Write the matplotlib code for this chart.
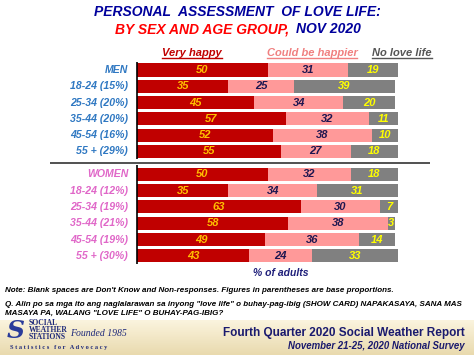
import numpy as np
import matplotlib
matplotlib.use("Agg")
import matplotlib.pyplot as plt
from matplotlib.lines import Line2D

plt.rcParams["font.family"] = ["Liberation Sans", "DejaVu Sans"]

# data
men_labels = ["MEN", "18-24 (15%)", "25-34 (20%)", "35-44 (20%)", "45-54 (16%)", "55 + (29%)"]
women_labels = ["WOMEN", "18-24 (12%)", "25-34 (19%)", "35-44 (21%)", "45-54 (19%)", "55 + (30%)"]
men_very = [50, 35, 45, 57, 52, 55]
men_could = [31, 25, 34, 32, 38, 27]
men_none = [19, 39, 20, 11, 10, 18]
women_very = [50, 35, 63, 58, 49, 43]
women_could = [32, 34, 30, 38, 36, 24]
women_none = [18, 31, 7, 3, 14, 33]

RED = "#C00000"
PINK = "#FF9999"
GRAY = "#808080"
NAVY = "#00009C"
MEN_C = "#2F78C2"
WOMEN_C = "#E067C8"

W, H = 474, 355


def fx(x):
    return x / W


def fy(y):
    return 1 - y / H


fig = plt.figure(figsize=(4.74, 3.55), dpi=100)
fig.patch.set_facecolor("white")

# footer band
fax = fig.add_axes([0, 0, 1, fy(320)])
grad = np.linspace(0, 1, 50).reshape(-1, 1)
cmap = matplotlib.colors.LinearSegmentedColormap.from_list("b", ["#FBF4DE", "#E9DAAE"])
fax.imshow(grad, aspect="auto", cmap=cmap, extent=[0, 1, 0, 1])
fax.axis("off")

# main axes: row -> pixel y = 70 + 16.3 * row
top_row, bot_row = -0.55, 11.95
ax = fig.add_axes([fx(137), fy(70 + 16.3 * bot_row), fx(398) - fx(137),
                   16.3 * (bot_row - top_row) / H])
ax.set_xlim(0, 100)
ax.set_ylim(bot_row, top_row)
ax.axis("off")

groups = [
    (np.arange(6), men_labels, men_very, men_could, men_none, MEN_C),
    (np.arange(6) + 6.4, women_labels, women_very, women_could, women_none, WOMEN_C),
]
bh = 0.8
for rows, labels, very, could, none, lc in groups:
    very = np.array(very)
    could = np.array(could)
    none = np.array(none)
    ax.barh(rows, very, height=bh, color=RED)
    ax.barh(rows, could, left=very, height=bh, color=PINK)
    ax.barh(rows, none, left=very + could, height=bh, color=GRAY)
    for r, lab, v, c, n in zip(rows, labels, very, could, none):
        ax.text(-3.4, r, lab, ha="right", va="center", color=lc,
                fontsize=7.6, fontweight="bold", fontstyle="italic")
        ax.text(v / 2, r, str(v), ha="center", va="center", color="#FFC000",
                fontsize=8, fontweight="bold", fontstyle="italic")
        ax.text(v + c / 2, r, str(c), ha="center", va="center", color="#1F1650",
                fontsize=8, fontweight="bold", fontstyle="italic")
        ax.text(v + c + n / 2, r, str(n), ha="center", va="center", color="#FFFF00",
                fontsize=8, fontweight="bold", fontstyle="italic")

# axis lines and separator
ax.vlines(0, -0.5, 5.45, color="black", lw=1.2, clip_on=False)
ax.vlines(0, 5.85, 11.9, color="black", lw=1.2, clip_on=False)
ax.hlines(5.7, -33.3, 112.3, color="#333333", lw=1.2, clip_on=False)

# titles
fig.text(fx(237), fy(12), "PERSONAL  ASSESSMENT  OF LOVE LIFE:", ha="center", va="center",
         color=NAVY, fontsize=10, fontweight="bold", fontstyle="italic")
fig.text(fx(289), fy(29), "BY SEX AND AGE GROUP,", ha="right", va="center",
         color="#FF0000", fontsize=10, fontweight="bold", fontstyle="italic")
fig.text(fx(296), fy(29), "NOV 2020", ha="left", va="center",
         color=NAVY, fontsize=10, fontweight="bold", fontstyle="italic")

# legend headers
heads = []
for xc, txt, col in [(192, "Very happy", RED), (312, "Could be happier", "#F08080"),
                     (402, "No love life", "#555555")]:
    t = fig.text(fx(xc), fy(53), txt, ha="center", va="center", color=col,
                 fontsize=8, fontweight="bold", fontstyle="italic")
    heads.append((t, col))

fig.text(fx(281), fy(273), "% of adults", ha="center", va="center", color="#1F1F7A",
         fontsize=7.5, fontweight="bold", fontstyle="italic")

# notes
fig.text(fx(5), fy(290), "Note: Blank spaces are Don't Know and Non-responses. Figures in parentheses are base proportions.",
         ha="left", va="center", fontsize=5.75, fontweight="bold", fontstyle="italic")
fig.text(fx(5), fy(304), "Q. Alin po sa mga ito ang naglalarawan sa inyong \"love life\" o buhay-pag-ibig (SHOW CARD) NAPAKASAYA, SANA MAS",
         ha="left", va="center", fontsize=5.75, fontweight="bold", fontstyle="italic")
fig.text(fx(5), fy(313), "MASAYA PA, WALANG \"LOVE LIFE\" O BUHAY-PAG-IBIG?",
         ha="left", va="center", fontsize=5.75, fontweight="bold", fontstyle="italic")

# footer texts
fig.text(fx(16), fy(331), "S", ha="center", va="center", color="#2A3C9A", fontsize=18,
         fontweight="bold", fontstyle="italic", family="DejaVu Serif")
for i, w in enumerate(["SOCIAL", "WEATHER", "STATIONS"]):
    fig.text(fx(29), fy(323 + 7 * i), w, ha="left", va="center", color="#1F2A7A",
             fontsize=5.5, fontweight="bold", family="Liberation Serif")
fig.text(fx(70), fy(334), "Founded 1985", ha="left", va="center", color="#1F2A7A",
         fontsize=7, fontstyle="italic", family="Liberation Serif")
fig.text(fx(10), fy(347), "S t a t i s t i c s   f o r   A d v o c a c y", ha="left", va="center",
         color="#1F2A7A", fontsize=4.6, fontweight="bold", family="Liberation Serif")
fig.text(fx(465), fy(333), "Fourth Quarter 2020 Social Weather Report", ha="right", va="center",
         color="#1A1A6E", fontsize=8.5, fontweight="bold")
fig.text(fx(465), fy(346), "November 21-25, 2020 National Survey", ha="right", va="center",
         color="#1A1A6E", fontsize=6.9, fontweight="bold", fontstyle="italic")

# underline legend headers
fig.canvas.draw()
r = fig.canvas.get_renderer()
for t, col in heads:
    bb = t.get_window_extent(renderer=r)
    y = bb.y0 / fig.bbox.height
    fig.add_artist(Line2D([bb.x0 / fig.bbox.width, bb.x1 / fig.bbox.width], [y, y],
                          color=col, lw=1.0))

fig.savefig("out.png", dpi=100)
